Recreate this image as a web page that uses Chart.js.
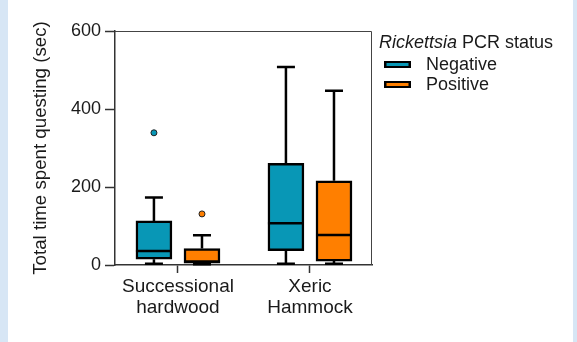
<!DOCTYPE html>
<html><head><meta charset="utf-8">
<script src="https://cdn.jsdelivr.net/npm/chart.js@4"></script>
<style>html,body{margin:0;padding:0;background:#fff;overflow:hidden}
#wrap{width:577px;height:342px;position:relative}</style>
</head><body><div id="wrap"><canvas id="c" width="577" height="342"></canvas></div>
<script>
// ---- data ----
const categories = [['Successional', 'hardwood'], ['Xeric', 'Hammock']];
const seriesNames = ['Negative', 'Positive'];
const legendTitleItalic = 'Rickettsia';
const legendTitleRest = ' PCR status';
const yTitle = 'Total time spent questing (sec)';
const yTicks = [0, 200, 400, 600];

const negMin = [3, 3];
const negQ1 = [15, 37];
const negMedian = [36, 107];
const negQ3 = [113, 261];
const negMax = [173, 508];
const negOutliers = [[339], []];

const posMin = [2, 3];
const posQ1 = [5, 10];
const posMedian = [9, 77];
const posQ3 = [42, 216];
const posMax = [76, 447];
const posOutliers = [[131], []];

// ---- styling ----
const colors = ['#0897b6', '#ff7f00'];
const FONT = '"Liberation Sans", Arial, Helvetica, sans-serif';
const TXT = '#1a1a1a';
const OFF = 0.182;
const BOX_W = 36, CAP_W = 18, LW = 2.5;

const series = [
  {name: seriesNames[0], min: negMin, q1: negQ1, med: negMedian, q3: negQ3, max: negMax, out: negOutliers},
  {name: seriesNames[1], min: posMin, q1: posQ1, med: posMedian, q3: posQ3, max: posMax, out: posOutliers}
];
const xPos = (i, k) => i + 1 + (k === 0 ? -OFF : OFF);

const boxDatasets = series.map((s, k) => ({
  type: 'bar',
  label: s.name,
  data: categories.map((c, i) => ({x: xPos(i, k), y: [s.q1[i], s.q3[i]]})),
  backgroundColor: colors[k],
  borderColor: '#000',
  borderWidth: LW,
  borderSkipped: false,
  barThickness: BOX_W,
  grouped: false,
  order: 2
}));
const outlierDatasets = series.map((s, k) => ({
  type: 'scatter',
  label: s.name + ' outliers',
  data: categories.flatMap((c, i) => s.out[i].map(v => ({x: xPos(i, k), y: v}))),
  pointRadius: 3,
  pointBackgroundColor: colors[k],
  pointBorderColor: '#222',
  pointBorderWidth: 1,
  order: 1
}));

const bgPlugin = {
  id: 'bg',
  beforeDraw(chart) {
    const ctx = chart.ctx;
    ctx.save();
    ctx.fillStyle = '#fff';
    ctx.fillRect(0, 0, chart.width, chart.height);
    ctx.fillStyle = '#d7e6f5';
    ctx.fillRect(0, 0, 8, chart.height);
    ctx.fillRect(573, 0, chart.width - 573, chart.height);
    ctx.restore();
  }
};

const boxPlugin = {
  id: 'boxparts',
  beforeDatasetsDraw(chart) {
    const ctx = chart.ctx, xs = chart.scales.x, ys = chart.scales.y, a = chart.chartArea;
    ctx.save();
    ctx.strokeStyle = '#444'; ctx.lineWidth = 1;
    ctx.beginPath();
    ctx.moveTo(a.left, a.top + 0.5); ctx.lineTo(a.right - 0.5, a.top + 0.5); ctx.lineTo(a.right - 0.5, a.bottom);
    ctx.stroke();
    ctx.strokeStyle = '#000'; ctx.lineWidth = LW; ctx.lineCap = 'butt';
    series.forEach((s, k) => {
      categories.forEach((c, i) => {
        const px = xs.getPixelForValue(xPos(i, k));
        const yMax = ys.getPixelForValue(s.max[i]), yMin = ys.getPixelForValue(s.min[i]);
        const yQ3 = ys.getPixelForValue(s.q3[i]), yQ1 = ys.getPixelForValue(s.q1[i]);
        ctx.beginPath();
        ctx.moveTo(px, yQ3); ctx.lineTo(px, yMax);
        ctx.moveTo(px, yQ1); ctx.lineTo(px, yMin);
        ctx.moveTo(px - CAP_W / 2, yMax); ctx.lineTo(px + CAP_W / 2, yMax);
        ctx.moveTo(px - CAP_W / 2, yMin); ctx.lineTo(px + CAP_W / 2, yMin);
        ctx.stroke();
      });
    });
    ctx.restore();
  },
  afterDatasetsDraw(chart) {
    const ctx = chart.ctx, xs = chart.scales.x, ys = chart.scales.y;
    ctx.save();
    ctx.strokeStyle = '#000'; ctx.lineWidth = LW;
    series.forEach((s, k) => {
      categories.forEach((c, i) => {
        const px = xs.getPixelForValue(xPos(i, k));
        const y = ys.getPixelForValue(s.med[i]);
        ctx.beginPath();
        ctx.moveTo(px - BOX_W / 2, y); ctx.lineTo(px + BOX_W / 2, y);
        ctx.stroke();
      });
    });
    ctx.restore();
  }
};

const legendPlugin = {
  id: 'customLegend',
  afterDraw(chart) {
    const ctx = chart.ctx;
    ctx.save();
    ctx.fillStyle = TXT;
    ctx.textBaseline = 'middle';
    ctx.textAlign = 'left';
    ctx.font = 'italic 18px ' + FONT;
    const x0 = 379, yT = 43;
    ctx.fillText(legendTitleItalic, x0, yT);
    const w = ctx.measureText(legendTitleItalic).width;
    ctx.font = '18px ' + FONT;
    ctx.fillText(legendTitleRest, x0 + w, yT);
    series.forEach((s, k) => {
      const cy = 64.5 + k * 20;
      ctx.fillStyle = '#000';
      ctx.fillRect(384, cy - 3.5, 27, 7);
      ctx.fillStyle = colors[k];
      ctx.fillRect(386.5, cy - 1.5, 22, 3);
      ctx.fillStyle = TXT;
      ctx.fillText(s.name, 426, cy + 0.5);
    });
    ctx.restore();
  }
};

Chart.defaults.font.family = FONT;
Chart.defaults.color = TXT;

new Chart(document.getElementById('c'), {
  type: 'bar',
  data: {datasets: [...boxDatasets, ...outlierDatasets]},
  options: {
    responsive: false,
    animation: false,
    layout: {padding: {left: 26, top: 31, right: 205, bottom: 0}},
    plugins: {legend: {display: false}, tooltip: {enabled: false}},
    scales: {
      x: {
        type: 'linear',
        offset: false,
        min: 0.523,
        max: 2.47,
        afterBuildTicks: (scale) => { scale.ticks = categories.map((c, i) => ({value: i + 1})); },
        afterFit: (scale) => { scale.height = 77; },
        ticks: {
          autoSkip: false,
          maxRotation: 0,
          padding: 4,
          font: {size: 19, lineHeight: 1.08},
          color: TXT,
          callback: (v, idx) => categories[idx]
        },
        grid: {offset: false, drawOnChartArea: false, drawTicks: true, tickLength: 8, tickColor: '#333', tickWidth: 1.5},
        border: {display: true, color: '#333', width: 1.5}
      },
      y: {
        type: 'linear',
        min: yTicks[0],
        max: yTicks[yTicks.length - 1],
        afterBuildTicks: (scale) => { scale.ticks = yTicks.map(v => ({value: v})); },
        afterFit: (scale) => { scale.width = 89; },
        ticks: {padding: 4, font: {size: 18}, color: TXT},
        grid: {offset: false, drawOnChartArea: false, drawTicks: true, tickLength: 10, tickColor: '#333', tickWidth: 1.5},
        border: {display: true, color: '#333', width: 1.5},
        title: {display: true, text: yTitle, font: {size: 18.7}, color: TXT, padding: {top: 4, bottom: 0}}
      }
    }
  },
  plugins: [bgPlugin, boxPlugin, legendPlugin]
});
</script>
</body></html>
